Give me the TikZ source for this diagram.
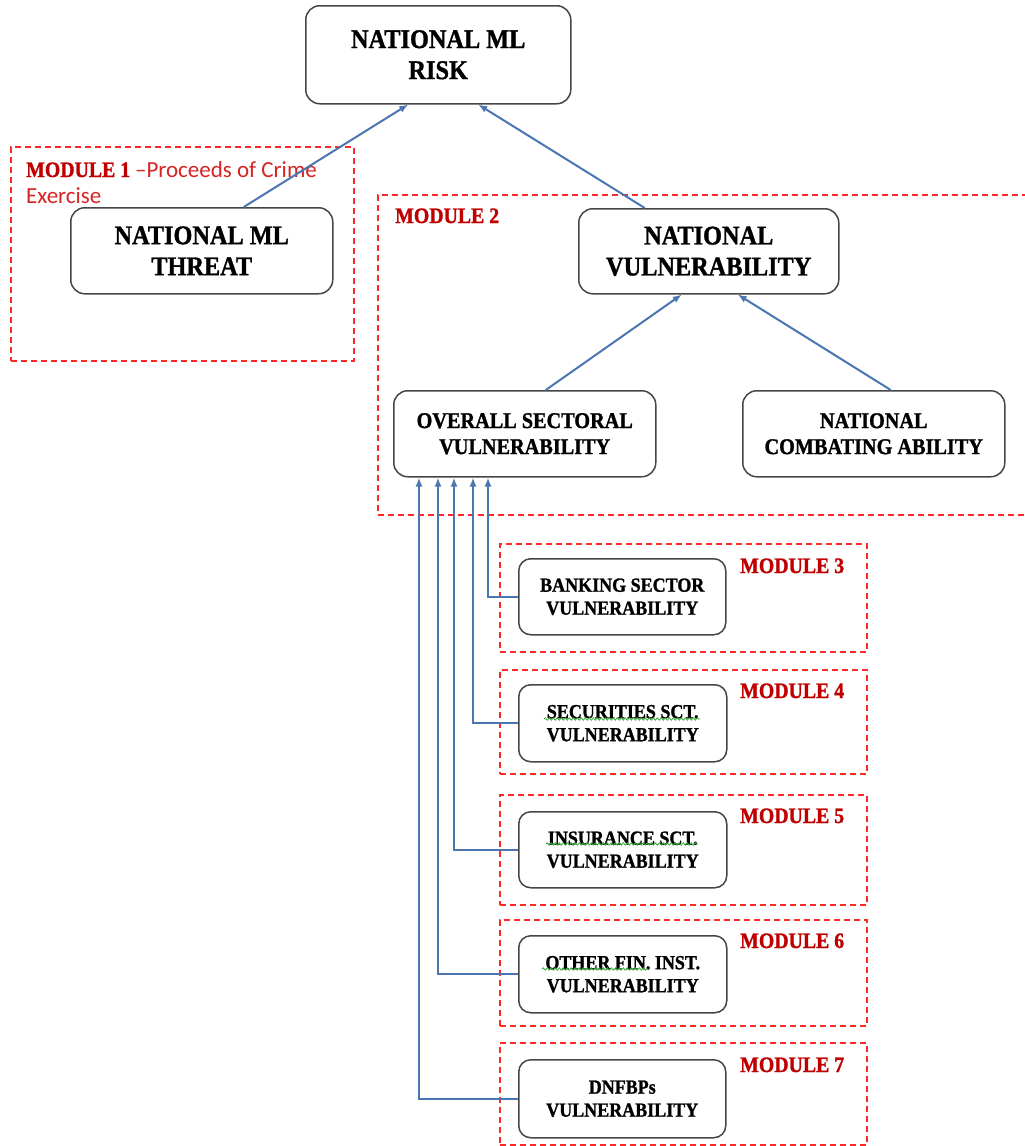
\documentclass[tikz,border=0pt]{standalone}
\usepackage{fontspec}
\setmainfont{Liberation Serif}[FakeStretch=0.9, BoldFeatures={FakeBold=1.2}]
\newfontfamily\calib{Carlito}
\usetikzlibrary{arrows.meta,decorations.pathmorphing}
\definecolor{boxgray}{RGB}{70,70,70}
\definecolor{dashred}{RGB}{255,40,40}
\definecolor{modred}{RGB}{192,0,0}
\definecolor{procred}{RGB}{215,35,35}
\definecolor{arrblue}{RGB}{74,118,178}
\definecolor{squig}{RGB}{60,170,60}
\tikzset{
  box/.style={draw=boxgray, line width=1.5pt, rounded corners=14pt, fill=white,
    align=center, inner sep=0pt, anchor=north west, text=black},
  bigtxt/.style={font=\bfseries\fontsize{27}{31}\selectfont},
  medtxt/.style={font=\bfseries\fontsize{22.5}{26}\selectfont},
  smalltxt/.style={font=\bfseries\fontsize{20}{23}\selectfont},
  modbox/.style={draw=dashred, line width=1.5pt, dash pattern=on 6pt off 4pt,
    anchor=north west, inner sep=0pt},
  modlabel/.style={text=modred, font=\bfseries\fontsize{22}{26}\selectfont,
    anchor=base west, inner sep=0pt},
  arr/.style={draw=arrblue, line width=2pt, -{Latex[length=9pt,width=7pt]}},
  squiggle/.style={draw=squig, line width=0.8pt, decorate,
    decoration={snake, amplitude=1.2pt, segment length=4pt}}
}
\begin{document}
\begin{tikzpicture}[x=1pt, y=-1pt]
\useasboundingbox (0,0) rectangle (1025,1146);
\fill[white] (0,0) rectangle (1025,1146);

% module frames
\node[modbox, minimum width=343pt, minimum height=214pt] (m1) at (10,146) {};
\node[modbox, minimum width=660pt, minimum height=320pt] (m2) at (377,194) {};
\node[modbox, minimum width=367pt, minimum height=108pt] (m3) at (499,543) {};
\node[modbox, minimum width=367pt, minimum height=104pt] (m4) at (499,669) {};
\node[modbox, minimum width=367pt, minimum height=110pt] (m5) at (499,794) {};
\node[modbox, minimum width=367pt, minimum height=106pt] (m6) at (499,919) {};
\node[modbox, minimum width=367pt, minimum height=102pt] (m7) at (499,1042) {};

% module labels
\node[modlabel] (l1) at (26,177) {MODULE 1 {\calib\mdseries\fontsize{23}{26}\selectfont\color{procred}–Proceeds of Crime}};
\node[anchor=base west, inner sep=0pt, text=procred, font=\calib\fontsize{23}{26}\selectfont] (l1b) at (26,203) {Exercise};
\node[modlabel] (l2) at (395,223) {MODULE 2};
\node[modlabel] (l3) at (740,573) {MODULE 3};
\node[modlabel] (l4) at (740,698) {MODULE 4};
\node[modlabel] (l5) at (740,823) {MODULE 5};
\node[modlabel] (l6) at (740,948) {MODULE 6};
\node[modlabel] (l7) at (740,1072) {MODULE 7};

% main boxes
\node[box, bigtxt, minimum width=265pt, minimum height=98pt] (risk) at (305,5) {NATIONAL ML\\RISK};
\node[box, bigtxt, minimum width=262pt, minimum height=86pt] (threat) at (70,207) {NATIONAL ML\\THREAT};
\node[box, bigtxt, minimum width=260pt, minimum height=85pt] (nv) at (578,208) {NATIONAL\\VULNERABILITY};
\node[box, medtxt, minimum width=262pt, minimum height=86pt] (ov) at (393,390) {OVERALL SECTORAL\\VULNERABILITY};
\node[box, medtxt, minimum width=262pt, minimum height=86pt] (nca) at (742,390) {NATIONAL\\COMBATING ABILITY};

% sector boxes
\node[box, smalltxt, rounded corners=12pt, minimum width=207pt, minimum height=76pt] (b3) at (518,558) {BANKING SECTOR\\VULNERABILITY};
\node[box, smalltxt, rounded corners=12pt, minimum width=208pt, minimum height=77pt] (b4) at (518,684) {SECURITIES SCT.\\VULNERABILITY};
\node[box, smalltxt, rounded corners=12pt, minimum width=208pt, minimum height=76pt] (b5) at (518,811) {INSURANCE SCT.\\VULNERABILITY};
\node[box, smalltxt, rounded corners=12pt, minimum width=208pt, minimum height=77pt] (b6) at (518,935) {OTHER FIN. INST.\\VULNERABILITY};
\node[box, smalltxt, rounded corners=12pt, minimum width=207pt, minimum height=78pt] (b7) at (518,1059) {DNFBPs\\VULNERABILITY};

% spell-check squiggles
\draw[squiggle] (544,719) -- (700,719);
\draw[squiggle] (546,844) -- (698,844);
\draw[squiggle] (542,969) -- (648,969);

% top connectors
\draw[arr] ([xshift=42pt]threat.north) -- ([xshift=-30pt]risk.south);
\draw[arr] ([xshift=-64pt]nv.north) -- ([xshift=40pt]risk.south);
\draw[arr] ([xshift=21pt]ov.north) -- ([xshift=-27pt]nv.south);
\draw[arr] ([xshift=17pt]nca.north) -- ([xshift=29pt]nv.south);

% sector connectors
\coordinate (c3) at (488,0);
\coordinate (c4) at (473,0);
\coordinate (c5) at (454,0);
\coordinate (c6) at (438,0);
\coordinate (c7) at (419,0);
\draw[arr] (b3.west) -| (c3 |- ov.south);
\draw[arr] (b4.west) -| (c4 |- ov.south);
\draw[arr] (b5.west) -| (c5 |- ov.south);
\draw[arr] (b6.west) -| (c6 |- ov.south);
\draw[arr] (b7.west) -| (c7 |- ov.south);
\end{tikzpicture}
\end{document}
